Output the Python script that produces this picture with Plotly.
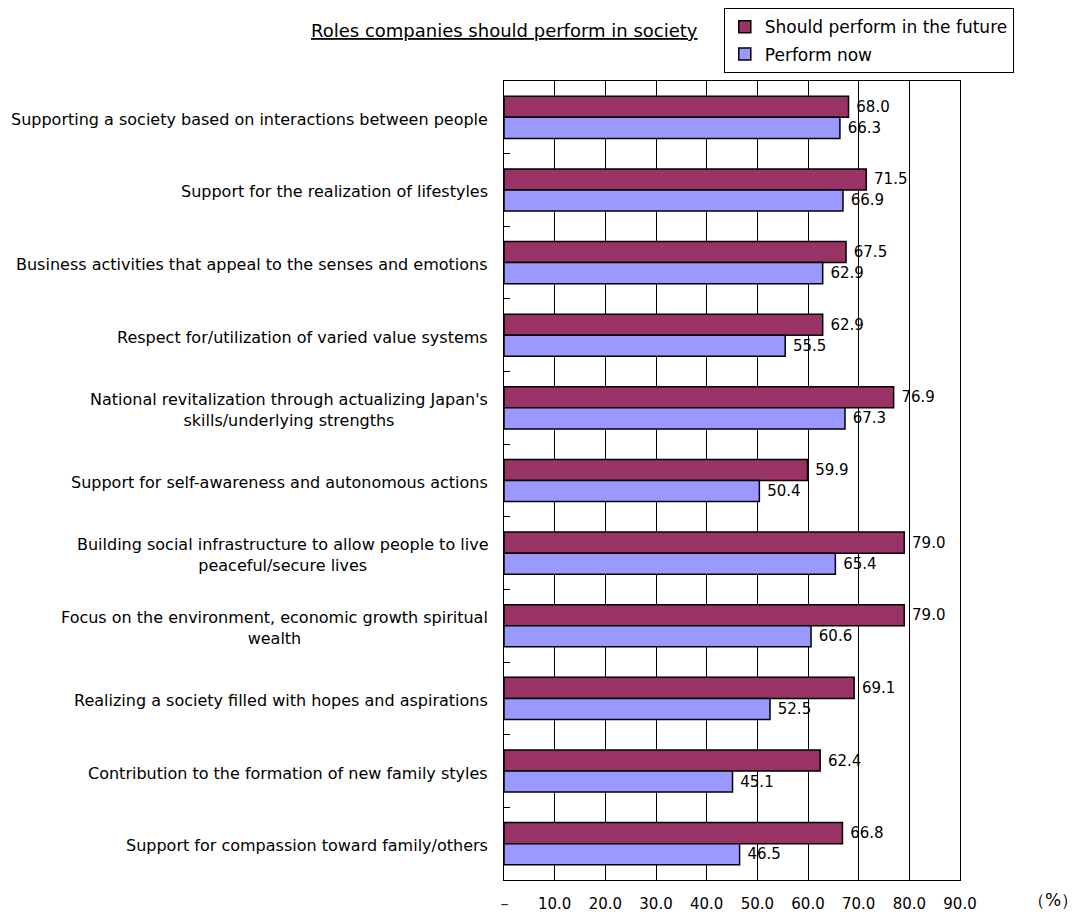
import plotly.graph_objects as go

categories = [
    "Supporting a society based on interactions between people",
    "Support for the realization of lifestyles",
    "Business activities that appeal to the senses and emotions",
    "Respect for/utilization of varied value systems",
    "National revitalization through actualizing Japan's<br>skills/underlying strengths",
    "Support for self-awareness and autonomous actions",
    "Building social infrastructure to allow people to live<br>peaceful/secure lives",
    "Focus on the environment, economic growth spiritual<br>wealth",
    "Realizing a society filled with hopes and aspirations",
    "Contribution to the formation of new family styles",
    "Support for compassion toward family/others",
]
future = [68.0, 71.5, 67.5, 62.9, 76.9, 59.9, 79.0, 79.0, 69.1, 62.4, 66.8]
now = [66.3, 66.9, 62.9, 55.5, 67.3, 50.4, 65.4, 60.6, 52.5, 45.1, 46.5]
x_ticks = [0, 10, 20, 30, 40, 50, 60, 70, 80, 90]
x_ticktext = ["－"] + [f"{v:.1f}" for v in x_ticks[1:]]

FONT = "DejaVu Sans"
pos = list(range(len(categories)))

fig = go.Figure()
fig.add_trace(go.Bar(
    y=pos, x=future, orientation="h", name="Should perform in the future",
    legendgroup="future",
    marker=dict(color="#993366", line=dict(color="black", width=1.5)),
    texttemplate="\u00a0%{x:.1f}", textposition="outside", cliponaxis=False,
    textfont=dict(size=15, color="black", family=FONT),
))
fig.add_trace(go.Bar(
    y=pos, x=now, orientation="h", name="Perform now",
    legendgroup="now",
    marker=dict(color="#9999FF", line=dict(color="black", width=1.5)),
    texttemplate="\u00a0%{x:.1f}", textposition="outside", cliponaxis=False,
    textfont=dict(size=15, color="black", family=FONT),
))

# category labels, centred line-by-line to the left of the axis
annotations = [
    dict(text=c, x=0, y=i, xref="paper", yref="y", xanchor="right", yanchor="middle",
         xshift=-14, yshift=-2, align="center", showarrow=False,
         font=dict(size=16, color="black", family=FONT))
    for i, c in enumerate(categories)
]
annotations.append(dict(
    text="<u>Roles companies should perform in society</u>", x=0.002, y=1.063,
    xref="paper", yref="paper", xanchor="center", yanchor="middle", showarrow=False,
    font=dict(size=18, color="black", family=FONT)))
annotations.append(dict(
    text="（%）", x=1.204, y=-0.025, xref="paper", yref="paper",
    xanchor="center", yanchor="middle", showarrow=False,
    font=dict(size=17, color="black", family=FONT)))

fig.update_layout(
    width=1078, height=914,
    margin=dict(l=504, r=118, t=81, b=34, autoexpand=False),
    paper_bgcolor="white", plot_bgcolor="white",
    barmode="group", bargap=0.42, bargroupgap=0,
    font=dict(family=FONT, size=15, color="black"),
    showlegend=True,
    legend=dict(x=0.482, y=1.091, xanchor="left", yanchor="top",
                bordercolor="black", borderwidth=1, bgcolor="white",
                font=dict(size=17, family=FONT), traceorder="grouped",
                tracegroupgap=2, itemwidth=30),
    annotations=annotations,
    xaxis=dict(range=[0, 90], tickvals=x_ticks, ticktext=x_ticktext,
               showgrid=True, gridcolor="black", gridwidth=1,
               showline=True, linecolor="black", linewidth=1, mirror=True,
               ticks="outside", ticklen=10, tickcolor="rgba(0,0,0,0)",
               tickfont=dict(size=15, family=FONT), zeroline=False,
               automargin=False, fixedrange=True),
    yaxis=dict(range=[len(categories) - 0.5, -0.5],
               tickvals=[i - 0.5 for i in range(len(categories) + 1)],
               ticktext=[""] * (len(categories) + 1),
               ticks="inside", ticklen=6, tickcolor="black",
               showgrid=False, showline=True, linecolor="black", linewidth=1,
               mirror=True, zeroline=False, automargin=False),
)

fig.write_html("out.html")
